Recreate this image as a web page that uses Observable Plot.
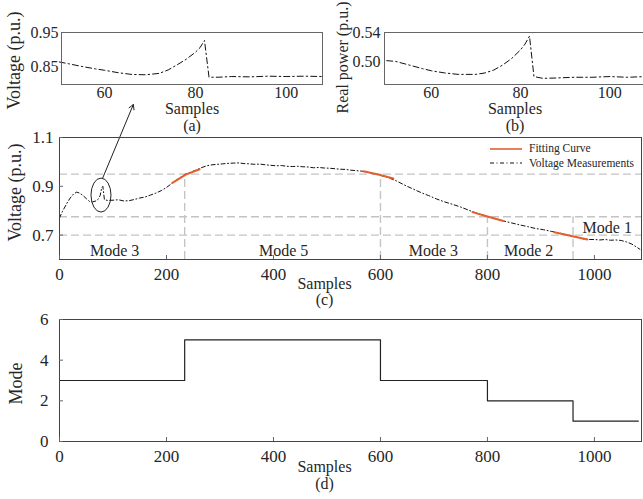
<!DOCTYPE html>
<html><head><meta charset="utf-8">
<script src="https://cdn.jsdelivr.net/npm/d3@7"></script>
<script src="https://cdn.jsdelivr.net/npm/@observablehq/plot@0.6"></script>
<style>
body{margin:0;background:#fff;}
#wrap{position:relative;width:643px;height:499px;overflow:hidden;background:#fff;font-family:"Liberation Serif",serif;}
#wrap svg{position:absolute;overflow:visible;}
</style></head><body><div id="wrap"></div>
<script>
// ---------- data ----------
// (a) zoom of voltage, samples 50-108
const aX = [50, 52, 55, 58, 60, 63, 66, 69, 72, 74, 76, 78, 80, 81, 82, 83, 85, 88, 92, 96, 100, 104, 108];
const aV = [0.865, 0.860, 0.852, 0.845, 0.841, 0.834, 0.829, 0.828, 0.832, 0.842, 0.857, 0.873, 0.893, 0.906, 0.927, 0.821, 0.821, 0.823, 0.822, 0.824, 0.823, 0.824, 0.823];
// (b) zoom of real power
const bX = [50, 52, 55, 58, 60, 63, 66, 70, 72, 74, 76, 78, 80, 81, 82, 83, 85, 88, 92, 96, 100, 104, 108];
const bP = [0.501, 0.500, 0.495, 0.490, 0.487, 0.484, 0.482, 0.482, 0.484, 0.488, 0.495, 0.504, 0.516, 0.524, 0.535, 0.479, 0.4765, 0.477, 0.478, 0.478, 0.479, 0.478, 0.479];
// (c) voltage measurements over all samples
const cX = [0,5,10,15,20,26,32,38,44,50,56,62,68,72,76,79,81,84,90,100,110,120,130,140,150,160,170,180,190,200,210,220,234,245,255,265,275,285,295,305,315,325,335,345,355,365,375,385,395,405,415,425,435,445,455,465,475,485,495,505,515,525,535,545,555,565,575,585,600,615,630,645,660,675,690,705,720,735,750,765,780,800,815,830,845,860,875,890,905,920,935,950,960,970,980,990,1000,1010,1020,1030,1040,1050,1060,1070,1078,1085];
const cV = [0.770,0.795,0.815,0.835,0.852,0.868,0.876,0.872,0.862,0.850,0.838,0.836,0.840,0.846,0.862,0.895,0.900,0.845,0.842,0.843,0.845,0.840,0.841,0.846,0.852,0.856,0.864,0.872,0.882,0.895,0.912,0.928,0.948,0.958,0.966,0.976,0.984,0.988,0.990,0.992,0.994,0.995,0.996,0.993,0.992,0.990,0.991,0.988,0.986,0.984,0.985,0.982,0.981,0.982,0.980,0.979,0.976,0.977,0.975,0.974,0.972,0.970,0.969,0.966,0.964,0.962,0.958,0.953,0.945,0.935,0.922,0.905,0.890,0.875,0.862,0.848,0.836,0.826,0.815,0.802,0.790,0.776,0.767,0.758,0.750,0.742,0.735,0.727,0.722,0.715,0.708,0.700,0.694,0.690,0.684,0.682,0.682,0.680,0.682,0.679,0.680,0.678,0.672,0.663,0.652,0.642];
// fitting curve segments
const fitSeg = ["A","A","A","B","B","B","C","C","C","D","D","D"];
const fitX = [211,236,262, 568,596,624, 772,800,830, 925,955,987];
const fitV = [0.914,0.948,0.970, 0.962,0.948,0.932, 0.794,0.776,0.758, 0.712,0.697,0.682];
// reference levels and mode boundaries
const hLevels = [0.95, 0.775, 0.70];
const vBoundX = [234, 600, 800, 960];
const vBoundTop = [0.95, 0.95, 0.775, 0.775];
// mode labels
const modeLabels = ["Mode 3", "Mode 5", "Mode 3", "Mode 2", "Mode 1"];
const modeLabelX = [103, 419, 699, 877, 1024];
const modeLabelV = [0.635, 0.635, 0.635, 0.635, 0.731];
// (d) mode sequence
const modeX = [0, 234, 600, 800, 960, 1082];
const modeY = [3, 5, 3, 2, 1, 1];
// annotation (circle + arrow) in data units of (c)
const circleAt = [78.5, 0.862];
const arrowFrom = [80.4, 0.932];
const arrowTo = [138, 1.235];
// ticks and text
const aTicksX = [60, 80, 100], aTicksY = [0.85, 0.95];
const bTicksX = [60, 80, 100], bTicksY = [0.50, 0.54];
const cTicksX = [0, 200, 400, 600, 800, 1000], cTicksY = [0.7, 0.9, 1.1];
const dTicksX = [0, 200, 400, 600, 800, 1000], dTicksY = [0, 2, 4, 6];
const xLabel = "Samples";
const captions = ["(a)", "(b)", "(c)", "(d)"];
const yLabels = ["Voltage (p.u.)", "Real power (p.u.)", "Voltage (p.u.)", "Mode"];
const legendLabels = ["Fitting Curve", "Voltage Measurements"];

// ---------- style ----------
const FONT = "Liberation Serif";
const INK = "#262626";
const FRAME = "#444";
const ORANGE = "#e4602f";
const DASHDOT = "6,3,1.5,3";
const DASHDOT_C = "4,2.5,1,2.5";
const GRID = "#c4c4c4";
const plain = d => String(d);
const baseStyle = {background: "transparent", fontFamily: FONT, fontSize: "16px", color: INK, overflow: "visible"};
const wrap = document.getElementById("wrap");
function place(el, left, top) { el.style.position = "absolute"; el.style.left = left + "px"; el.style.top = top + "px"; el.style.maxWidth = "none"; wrap.appendChild(el); }
function yTitle(t, dx, dy, size = 18) { return Plot.text([t], {text: d => d, frameAnchor: "left", textAnchor: "middle", lineAnchor: "middle", rotate: -90, dx, dy, fontSize: size, fill: INK}); }
function bottomText(t, dx, dy) { return Plot.text([t], {text: d => d, frameAnchor: "bottom", textAnchor: "middle", lineAnchor: "top", dx, dy, fontSize: 16, fill: INK}); }

const aData = aX.map((x, i) => ({x, y: aV[i]}));
const bData = bX.map((x, i) => ({x, y: bP[i]}));
const cData = cX.map((x, i) => ({x, y: cV[i]}));
const fitData = fitX.map((x, i) => ({x, y: fitV[i], seg: fitSeg[i]}));
const vData = vBoundX.map((x, i) => ({x, top: vBoundTop[i]}));
const modeText = modeLabels.map((t, i) => ({t, x: modeLabelX[i], y: modeLabelV[i]}));
const dData = modeX.map((x, i) => ({x, y: modeY[i]}));

// ---------- (c) ----------
const cYDomain = [0.6, 1.1];
const pc = Plot.plot({
  width: 643, height: 310,
  marginLeft: 59, marginRight: 2, marginTop: 137, marginBottom: 51,
  x: {domain: [0, 1088]},
  y: {domain: cYDomain},
  style: baseStyle,
  marks: [
    Plot.ruleY(hLevels, {y: d => d, stroke: GRID, strokeWidth: 1.4, strokeDasharray: "8,4"}),
    Plot.ruleX(vData, {x: "x", y1: cYDomain[0], y2: "top", stroke: GRID, strokeWidth: 1.4, strokeDasharray: "8,4"}),
    Plot.line(cData, {x: "x", y: "y", stroke: "#111", strokeWidth: 1, strokeDasharray: DASHDOT_C}),
    Plot.line(fitData, {x: "x", y: "y", z: "seg", stroke: ORANGE, strokeWidth: 2}),
    Plot.text(modeText, {x: "x", y: "y", text: "t", fontSize: 16, fill: INK}),
    (index, scales) => {
      const e = document.createElementNS("http://www.w3.org/2000/svg", "ellipse");
      e.setAttribute("cx", scales.x(circleAt[0]));
      e.setAttribute("cy", scales.y(circleAt[1]));
      e.setAttribute("rx", 10); e.setAttribute("ry", 17);
      e.setAttribute("fill", "none"); e.setAttribute("stroke", "#222"); e.setAttribute("stroke-width", 1);
      return e;
    },
    Plot.arrow([{x1: arrowFrom[0], y1: arrowFrom[1], x2: arrowTo[0], y2: arrowTo[1]}], {x1: "x1", y1: "y1", x2: "x2", y2: "y2", stroke: "#222", strokeWidth: 1, headLength: 8}),
    Plot.frame({stroke: FRAME}),
    Plot.axisX(cTicksX, {tickSize: -4, tickPadding: 12, fontSize: 17, label: null, stroke: "#666", tickFormat: plain}),
    Plot.axisY(cTicksY, {tickSize: -4, tickPadding: 10, fontSize: 17, label: null, tickFormat: d3.format(".1f"), stroke: "#666"}),
    bottomText(xLabel, -26, 18),
    bottomText(captions[2], -26, 34),
    yTitle(yLabels[2], -44, -6)
  ]
});
place(pc, 0, 0);

// ---------- (a) ----------
const pa = Plot.plot({
  width: 330, height: 140,
  marginLeft: 61, marginRight: 8, marginTop: 32, marginBottom: 56,
  x: {domain: [50.5, 108]},
  y: {domain: [0.8, 0.95]},
  style: baseStyle,
  marks: [
    Plot.line(aData, {x: "x", y: "y", stroke: "#111", strokeWidth: 1, strokeDasharray: DASHDOT}),
    Plot.frame({stroke: "#666"}),
    Plot.axisX(aTicksX, {tickSize: 0, tickPadding: 2, fontSize: 16, label: null, tickFormat: plain}),
    Plot.axisY(aTicksY, {tickSize: 0, tickPadding: 3, fontSize: 16, label: null, tickFormat: d3.format(".2f")}),
    bottomText(xLabel, 0, 18),
    bottomText(captions[0], 0, 35),
    yTitle(yLabels[0], -47, 2)
  ]
});
place(pa, 0, 0);

// ---------- (b) ----------
const pb = Plot.plot({
  width: 330, height: 140,
  marginLeft: 64, marginRight: 5, marginTop: 32, marginBottom: 56,
  x: {domain: [49.5, 108]},
  y: {domain: [0.468, 0.54]},
  style: baseStyle,
  marks: [
    Plot.line(bData, {x: "x", y: "y", stroke: "#111", strokeWidth: 1, strokeDasharray: DASHDOT}),
    Plot.frame({stroke: "#666"}),
    Plot.axisX(bTicksX, {tickSize: 0, tickPadding: 2, fontSize: 16, label: null, tickFormat: plain}),
    Plot.axisY(bTicksY, {tickSize: 0, tickPadding: 4, fontSize: 16, label: null, tickFormat: d3.format(".2f")}),
    bottomText(xLabel, 0, 18),
    bottomText(captions[1], 0, 35),
    yTitle(yLabels[1], -42, -1, 16)
  ]
});
place(pb, 320, 0);

// ---------- (d) ----------
const pd = Plot.plot({
  width: 643, height: 199,
  marginLeft: 59, marginRight: 2, marginTop: 19, marginBottom: 58,
  x: {domain: [0, 1088]},
  y: {domain: [0, 6]},
  style: baseStyle,
  marks: [
    Plot.line(dData, {x: "x", y: "y", curve: "step-after", stroke: "#222", strokeWidth: 1.2}),
    Plot.frame({stroke: FRAME}),
    Plot.axisX(dTicksX, {tickSize: -4, tickPadding: 12, fontSize: 17, label: null, stroke: "#666", tickFormat: plain}),
    Plot.axisY(dTicksY, {tickSize: -4, tickPadding: 15, fontSize: 17, label: null, stroke: "#666", tickFormat: plain}),
    bottomText(xLabel, -26, 19),
    bottomText(captions[3], -26, 36),
    yTitle(yLabels[3], -43, 3)
  ]
});
place(pd, 0, 300);

// ---------- legend inside (c) ----------
const lg = d3.create("svg").attr("width", 160).attr("height", 36)
  .style("font-family", FONT).style("font-size", "11.5px");
lg.append("line").attr("x1", 2).attr("x2", 34).attr("y1", 9).attr("y2", 9)
  .attr("stroke", ORANGE).attr("stroke-width", 1.6);
lg.append("line").attr("x1", 2).attr("x2", 34).attr("y1", 23).attr("y2", 23)
  .attr("stroke", "#111").attr("stroke-width", 1).attr("stroke-dasharray", DASHDOT_C);
lg.selectAll("text").data(legendLabels).join("text")
  .attr("x", 41).attr("y", (d, i) => 12 + i * 15).attr("fill", INK).text(d => d);
place(lg.node(), 488, 140);
</script>
</body></html>
